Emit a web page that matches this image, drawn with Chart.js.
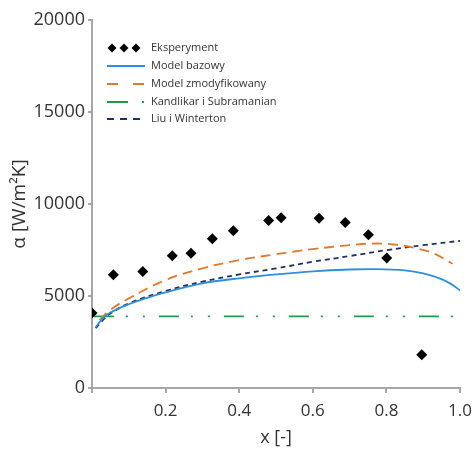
<!DOCTYPE html>
<html>
<head>
<meta charset="utf-8">
<script src="https://cdn.jsdelivr.net/npm/chart.js@4/dist/chart.umd.min.js"></script>
<style>
  html, body { margin: 0; padding: 0; background: #fff; }
  #wrap { width: 475px; height: 453px; }
</style>
</head>
<body>
<div id="wrap"><canvas id="Main" width="475" height="453"></canvas></div>
<script>
// data
var expX = [0.0, 0.058, 0.138, 0.218, 0.269, 0.327, 0.384, 0.480, 0.514, 0.617, 0.688, 0.751, 0.801, 0.896];
var expY = [4070, 6150, 6330, 7190, 7330, 8110, 8540, 9100, 9250, 9230, 9000, 8330, 7060, 1810];

var bazX = [0.01, 0.03, 0.05, 0.1, 0.15, 0.2, 0.3, 0.4, 0.5, 0.6, 0.7, 0.77, 0.85, 0.9, 0.95, 0.98, 1.0];
var bazY = [3300, 3800, 4100, 4550, 4900, 5200, 5690, 5960, 6170, 6340, 6440, 6460, 6390, 6230, 5920, 5600, 5300];

var modX = [0.02, 0.05, 0.1, 0.2, 0.3, 0.4, 0.5, 0.6, 0.7, 0.76, 0.82, 0.88, 0.93, 0.98];
var modY = [3700, 4250, 4870, 5870, 6500, 6950, 7270, 7550, 7760, 7850, 7800, 7600, 7300, 6750];

var kanX = [0.005, 0.985];
var kanY = [3890, 3890];

var liuX = [0.01, 0.03, 0.05, 0.1, 0.2, 0.3, 0.4, 0.5, 0.6, 0.7, 0.8, 0.9, 1.0];
var liuY = [3250, 3700, 4050, 4600, 5270, 5780, 6170, 6500, 6860, 7170, 7490, 7760, 8000];

var labels = ['Eksperyment', 'Model bazowy', 'Model zmodyfikowany', 'Kandlikar i Subramanian', 'Liu i Winterton'];

function pts(xs, ys) {
  var out = [];
  for (var i = 0; i < xs.length; i++) out.push({x: xs[i], y: ys[i]});
  return out;
}

var FONT = '"Open Sans", "Liberation Sans", sans-serif';
var AXIS = '#a6a6a6';

var legendPlugin = {
  id: 'sideLegend',
  afterDraw: function (chart) {
    var ctx = chart.ctx;
    var rows = [48, 66, 84, 102, 119];
    var x0 = 107, x1 = 145;
    ctx.save();
    // diamonds
    ctx.fillStyle = '#000';
    [112, 124, 136].forEach(function (cx) {
      ctx.beginPath();
      ctx.moveTo(cx, rows[0] - 4.5);
      ctx.lineTo(cx + 4.5, rows[0]);
      ctx.lineTo(cx, rows[0] + 4.5);
      ctx.lineTo(cx - 4.5, rows[0]);
      ctx.closePath();
      ctx.fill();
    });
    var lines = [
      null,
      {c: '#2f8fd8', d: [], w: 1.8},
      {c: '#e07a2c', d: [11, 15], w: 1.8},
      {c: '#1f9a4e', d: [21, 14, 2, 40], w: 1.8},
      {c: '#1f2f66', d: [7, 6], w: 1.8}
    ];
    for (var i = 1; i < lines.length; i++) {
      ctx.beginPath();
      ctx.strokeStyle = lines[i].c;
      ctx.lineWidth = lines[i].w;
      ctx.setLineDash(lines[i].d);
      ctx.moveTo(x0, rows[i]);
      ctx.lineTo(x1, rows[i]);
      ctx.stroke();
    }
    ctx.setLineDash([]);
    ctx.fillStyle = '#333';
    ctx.font = '11px ' + FONT;
    ctx.textBaseline = 'middle';
    for (var j = 0; j < labels.length; j++) ctx.fillText(labels[j], 151, rows[j]);
    ctx.restore();
  }
};

new Chart(document.getElementById('Main'), {
  type: 'scatter',
  data: {
    datasets: [
      {label: labels[0], data: pts(expX, expY), showLine: false,
       pointStyle: 'rectRot', pointRadius: 5.5, pointBackgroundColor: '#000', pointBorderColor: '#000', pointBorderWidth: 0},
      {label: labels[1], data: pts(bazX, bazY), showLine: true, pointRadius: 0,
       borderColor: '#2f8fd8', borderWidth: 1.8, tension: 0.4},
      {label: labels[2], data: pts(modX, modY), showLine: true, pointRadius: 0,
       borderColor: '#e07a2c', borderWidth: 1.8, borderDash: [10, 6], tension: 0.4},
      {label: labels[3], data: pts(kanX, kanY), showLine: true, pointRadius: 0,
       borderColor: '#1f9a4e', borderWidth: 1.8, borderDash: [20, 12, 2, 15, 2, 14]},
      {label: labels[4], data: pts(liuX, liuY), showLine: true, pointRadius: 0,
       borderColor: '#1f2f66', borderWidth: 1.8, borderDash: [5, 4], tension: 0.4}
    ]
  },
  options: {
    responsive: false,
    animation: false,
    layout: {padding: {top: 20, right: 15, left: 4, bottom: 0}},
    plugins: {legend: {display: false}, tooltip: {enabled: false}},
    scales: {
      x: {
        type: 'linear', min: 0, max: 1,
        afterFit: function (s) { s.height = 65; s.paddingRight = 0; s.paddingLeft = 0; },
        border: {color: AXIS, width: 2},
        grid: {drawOnChartArea: false, drawTicks: true, tickLength: 5, color: AXIS, lineWidth: 2},
        ticks: {
          stepSize: 0.2, color: '#333', font: {family: FONT, size: 17}, padding: 8,
          callback: function (v) { return v === 0 ? '' : v.toFixed(1); }
        },
        title: {display: true, text: 'x [-]', color: '#333', font: {family: FONT, size: 18}, padding: {top: 0}}
      },
      y: {
        min: 0, max: 20000,
        afterFit: function (s) { s.width = 88; },
        border: {color: AXIS, width: 2},
        grid: {drawOnChartArea: false, drawTicks: true, tickLength: 4, color: AXIS, lineWidth: 2},
        ticks: {
          stepSize: 5000, color: '#333', font: {family: FONT, size: 18}, padding: 3,
          callback: function (v) { return String(v); }
        },
        title: {display: true, text: 'α [W/m²K]', color: '#333', font: {family: FONT, size: 19}, padding: {bottom: 0}}
      }
    }
  },
  plugins: [legendPlugin]
});
</script>
</body>
</html>
